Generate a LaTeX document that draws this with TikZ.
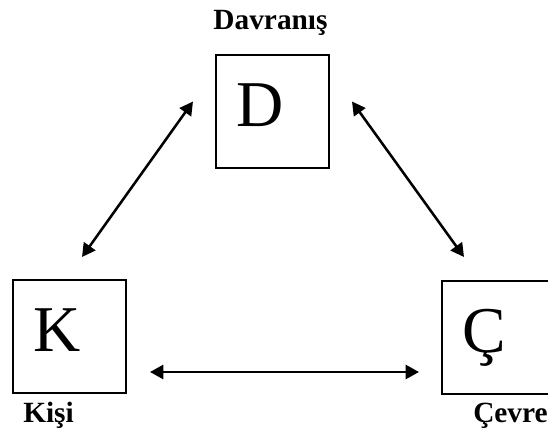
\documentclass[tikz,border=0pt]{standalone}
\usepackage{fontspec}
\setmainfont{Liberation Serif}
\usetikzlibrary{arrows.meta,calc}
\begin{document}
\begin{tikzpicture}[x=0.75pt,y=-0.75pt,
    letterbox/.style={draw, line width=1.2pt, anchor=north west, outer sep=0pt,
        minimum width=84.75pt, minimum height=84.75pt, text width=54.75pt,
        align=left, inner xsep=15pt, text height=32.4pt, text depth=10pt,
        font=\fontsize{49}{49}\selectfont},
    tag/.style={font=\bfseries\fontsize{22}{22}\selectfont, inner sep=0pt},
    link/.style={line width=1.9pt,
        {Triangle[length=10pt,width=10.5pt]}-{Triangle[length=10pt,width=10.5pt]}}]
    \useasboundingbox (0,0) rectangle (548,448);

    % Draw the three boxes
    \node[letterbox] (D) at (216,55) {D};
    \node[letterbox] (K) at (13,280) {K};
    \node[letterbox] (C) at (442,281) {Ç};

    \node[tag, anchor=base] (Dtag) at ($(D.north)+(-2,-25)$) {Davranış};
    \node[tag, anchor=base west] (Ktag) at ($(K.south west)+(10,29)$) {Kişi};
    \node[tag, anchor=base west] (Ctag) at ($(C.south west)+(31,28)$) {Çevre};

    % Arrow ends
    \coordinate (dk1) at ($(D.west)+(-23,-10)$);
    \coordinate (dk2) at ($(K.north)+(12.5,-23)$);
    \coordinate (dc1) at ($(D.east)+(23,-10)$);
    \coordinate (dc2) at ($(C.north)+(-34.5,-24)$);
    \coordinate (kc1) at ($(K.east)+(24,35.5)$);
    \coordinate (kc2) at ($(C.west)+(-23,34.5)$);

    \draw[link] (dk1) -- (dk2);
    \draw[link] (dc1) -- (dc2);
    \draw[link] (kc1) -- (kc2);
\end{tikzpicture}
\end{document}
